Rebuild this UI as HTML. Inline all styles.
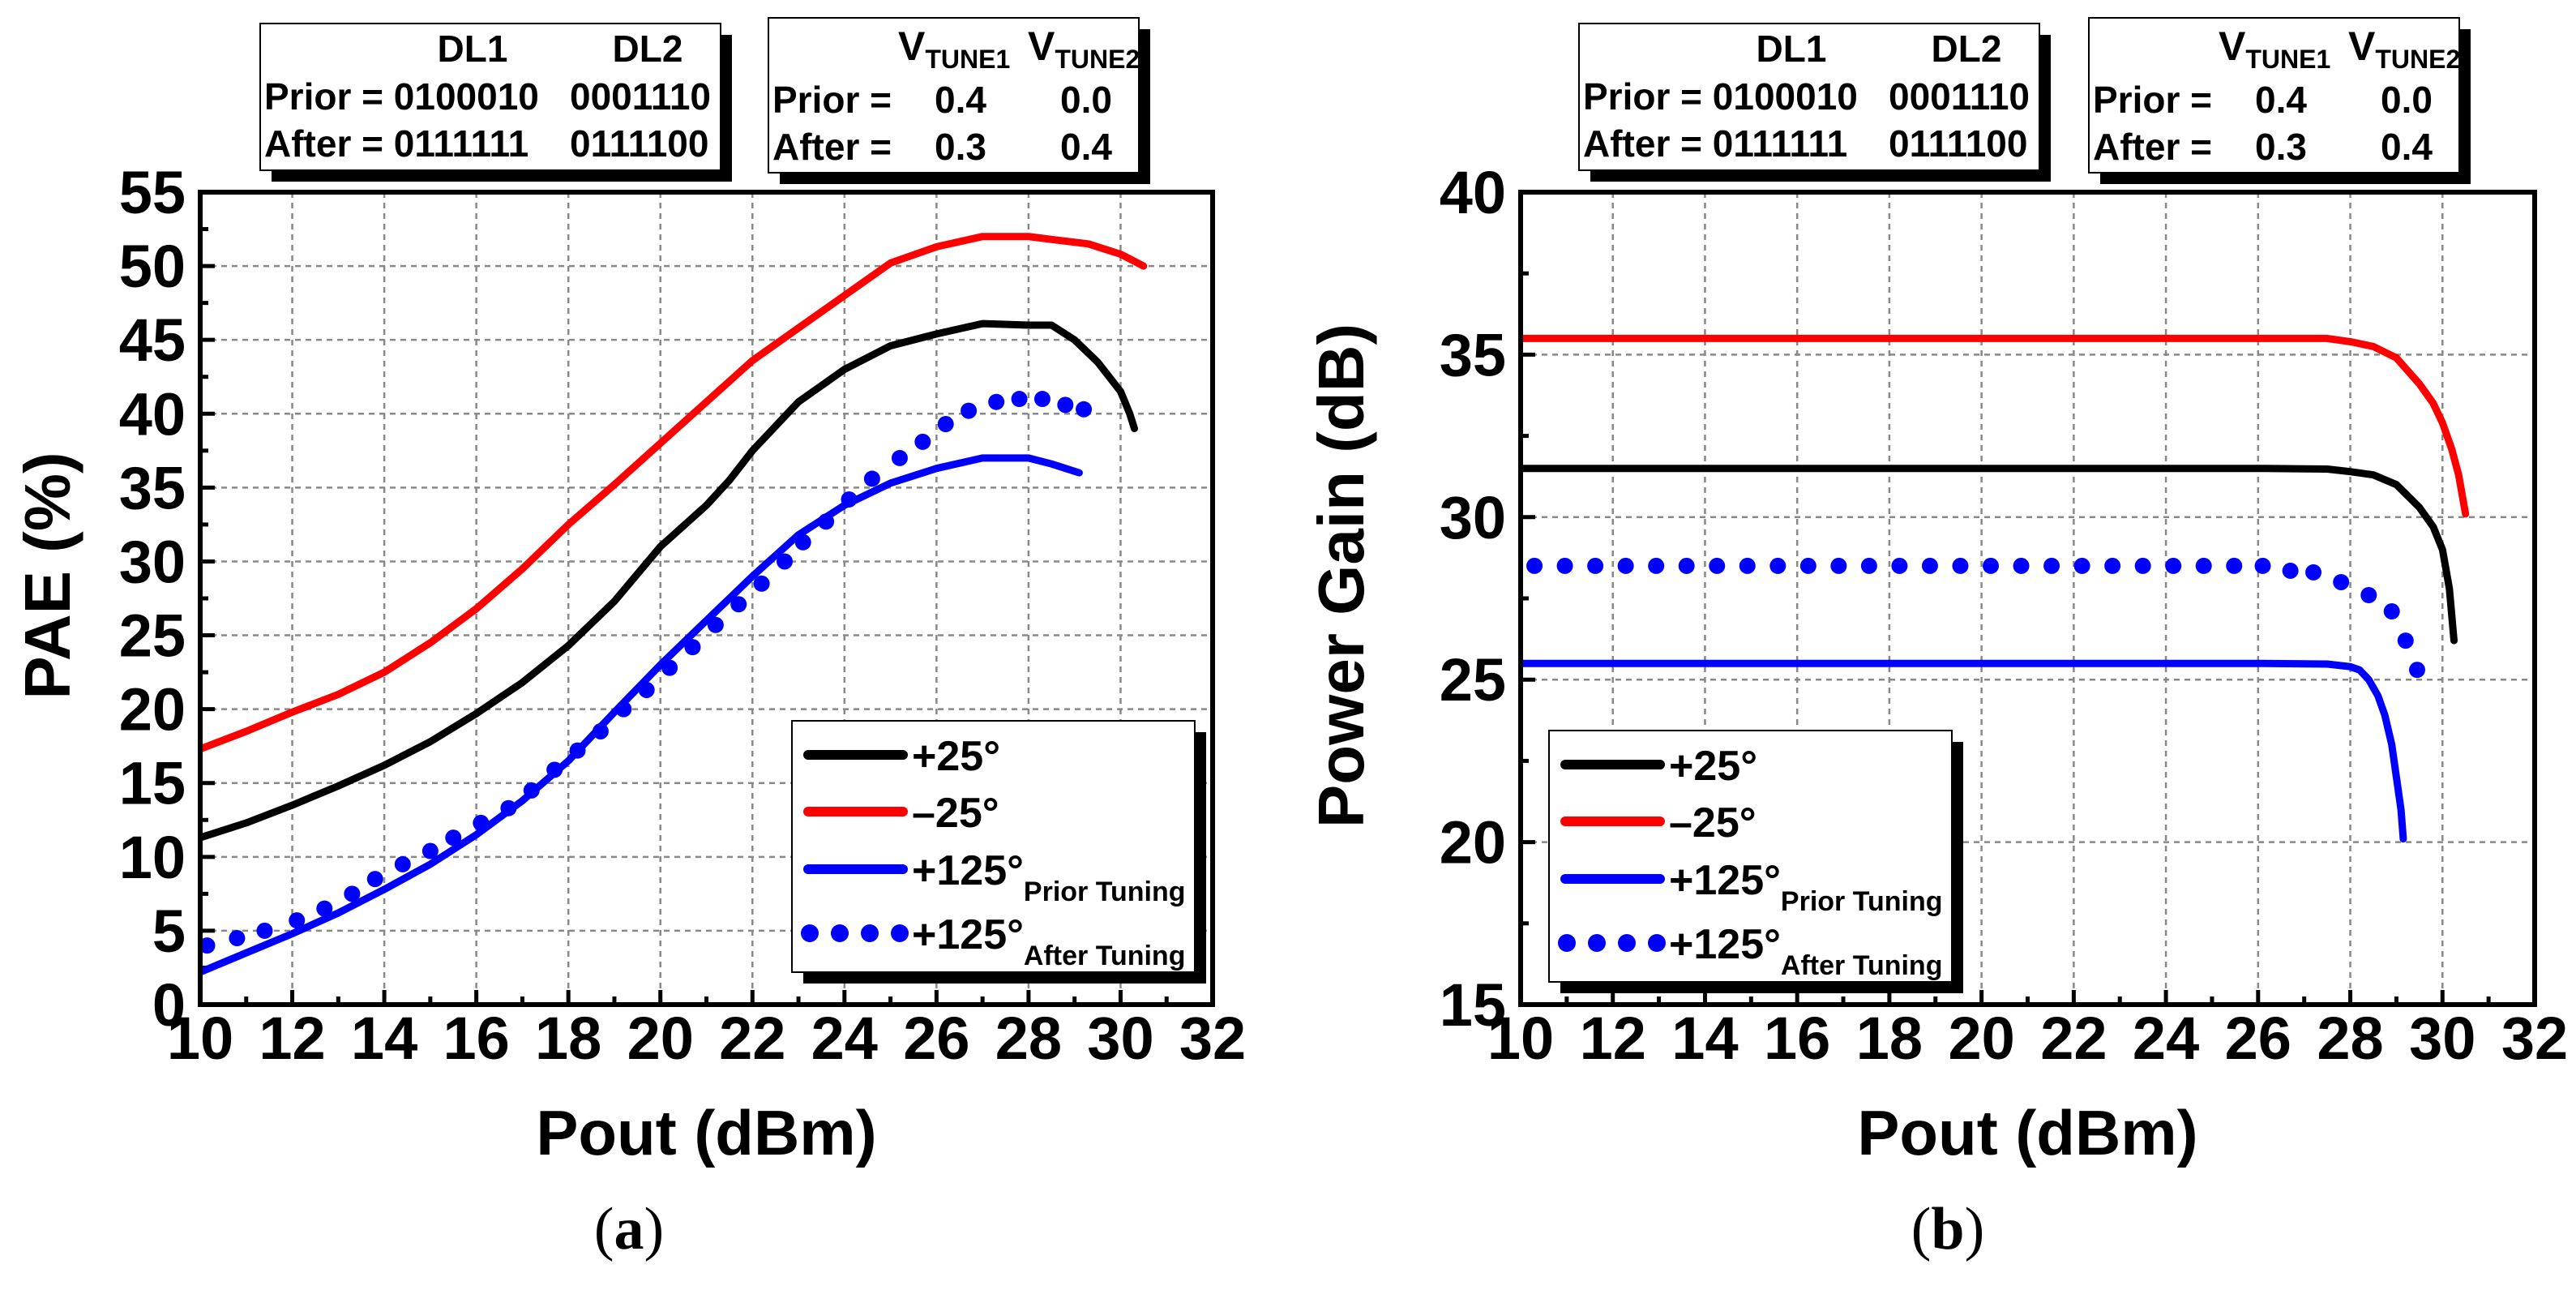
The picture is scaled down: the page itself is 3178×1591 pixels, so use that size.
<!DOCTYPE html>
<html><head><meta charset="utf-8"><style>
html,body{margin:0;padding:0;background:#fff;}
svg{display:block;font-family:"Liberation Sans",Arial,sans-serif;}
</style></head><body>
<svg id="fig" width="3178" height="1591" viewBox="0 0 3178 1591" xmlns="http://www.w3.org/2000/svg"></svg>
<script>
// ---- Panel (a) PAE data ----
const paeBlackX = [10,11,12,13,14,15,16,17,18,19,20,21,21.5,22,23,24,25,26,27,28,28.5,29,29.5,30,30.2,30.3];
const paeBlackY = [11.3,12.3,13.5,14.8,16.2,17.8,19.7,21.8,24.3,27.3,31,33.8,35.5,37.5,40.8,43,44.6,45.4,46.1,46,46,45,43.5,41.5,40,39];
const paeRedX = [10,11,12,13,14,15,16,17,18,19,20,21,22,23,24,25,26,27,28,28.5,29.3,30,30.5];
const paeRedY = [17.3,18.5,19.8,21,22.5,24.5,26.8,29.5,32.5,35.2,38,40.8,43.6,45.8,48,50.2,51.3,52,52,51.8,51.5,50.8,50];
const paeBlueX = [10,11,12,13,14,15,16,17,18,19,20,21,22,23,24,25,26,27,28,28.5,29.1];
const paeBlueY = [2.2,3.5,4.8,6.2,7.8,9.5,11.5,13.8,16.5,19.8,23,26,29,31.8,33.8,35.3,36.3,37,37,36.6,36];
const paeDotX = [10.15,10.8,11.4,12.1,12.7,13.3,13.8,14.4,15,15.5,16.1,16.7,17.2,17.7,18.2,18.7,19.2,19.7,20.2,20.7,21.2,21.7,22.2,22.7,23.1,23.6,24.1,24.6,25.2,25.7,26.2,26.7,27.3,27.8,28.3,28.8,29.2];
const paeDotY = [4,4.5,5,5.7,6.5,7.5,8.5,9.5,10.4,11.3,12.3,13.3,14.5,15.9,17.2,18.5,20,21.3,22.8,24.2,25.7,27.1,28.5,30,31.3,32.7,34.2,35.6,37,38.1,39.3,40.2,40.8,41,41,40.6,40.3];
const paeTicks = [0,5,10,15,20,25,30,35,40,45,50,55];
// ---- Panel (b) Gain data ----
const gBlackX = [10,14,18,22,26,27.5,28,28.5,29,29.5,29.8,30,30.15,30.25];
const gBlackY = [31.5,31.5,31.5,31.5,31.5,31.48,31.4,31.3,31,30.3,29.7,29,27.8,26.2];
const gRedX = [10,14,18,22,26,27.5,28,28.5,29,29.5,29.8,30,30.2,30.35,30.5];
const gRedY = [35.5,35.5,35.5,35.5,35.5,35.5,35.4,35.25,34.9,34.1,33.5,32.9,32.1,31.3,30.1];
const gBlueX = [10,14,18,22,26,27.5,28,28.2,28.4,28.6,28.75,28.9,29,29.1,29.15];
const gBlueY = [25.5,25.5,25.5,25.5,25.5,25.48,25.4,25.3,25,24.5,23.9,23,22,21,20.1];
const gDotX = [10.3,10.96,11.62,12.28,12.94,13.6,14.26,14.92,15.58,16.24,16.9,17.56,18.22,18.88,19.54,20.2,20.86,21.52,22.18,22.84,23.5,24.16,24.82,25.48,26.1,26.7,27.2,27.8,28.4,28.9,29.2,29.45];
const gDotY = [28.5,28.5,28.5,28.5,28.5,28.5,28.5,28.5,28.5,28.5,28.5,28.5,28.5,28.5,28.5,28.5,28.5,28.5,28.5,28.5,28.5,28.5,28.5,28.5,28.5,28.35,28.3,28,27.6,27.1,26.2,25.3];
const gainTicks = [15,20,25,30,35,40];
const xTicks = [10,12,14,16,18,20,22,24,26,28,30,32];

const NS = "http://www.w3.org/2000/svg";
const fig = document.getElementById('fig');
function mk(tag, attrs, parent, text){
  const e = document.createElementNS(NS, tag);
  for (const k in attrs) e.setAttribute(k, attrs[k]);
  if (text !== undefined) e.textContent = text;
  (parent || fig).appendChild(e);
  return e;
}

function panel(o){
  const g = mk('g', {});
  
  
  const L=o.L, R=o.R, T=237, B=1239;
  const sx = v => L + (v-10)/(32-10)*(R-L);
  const sy = v => B - (v-o.ymin)/(o.ymax-o.ymin)*(B-T);
  const grid = mk('g', {stroke:'#888','stroke-width':2.5,'stroke-dasharray':'7,6'}, g);
  
  
  xTicks.slice(1,-1).forEach(v=>mk('line',{x1:sx(v),x2:sx(v),y1:T,y2:B},grid));
  o.yTicks.slice(1,-1).forEach(v=>mk('line',{x1:L,x2:R,y1:sy(v),y2:sy(v)},grid));
  const tk = mk('g',{stroke:'#000','stroke-width':5},g);
  
  
  for(let v=10; v<=32; v+=1){ const len = (v%2===0)?18:10; mk('line',{x1:sx(v),x2:sx(v),y1:B,y2:B-len},tk); }
  for(let v=o.ymin; v<=o.ymax; v+=2.5){ const len = (v%5===0)?18:10; mk('line',{x1:L,x2:L+len,y1:sy(v),y2:sy(v)},tk); }
  xTicks.forEach(v=>{
    const t = mk('text',{x:sx(v),y:1306,'font-size':74,'font-weight':'bold','text-anchor':'middle'},g,String(v));
    
    
  });
  o.yTicks.forEach(v=>{
    const t = mk('text',{x:L-18,y:sy(v)+26,'font-size':74,'font-weight':'bold','text-anchor':'end'},g,String(v));
    
    
  });
  const clip = 'clip-'+o.name;
  const cp = mk('clipPath',{id:clip},g); mk('rect',{x:L,y:T-5,width:R-L+40,height:B-T+5},cp);
  function line(xs,ys,color,name){
    const p = mk('path',{d:xs.map((x,i)=>(i?'L':'M')+sx(x).toFixed(1)+' '+sy(ys[i]).toFixed(1)).join(' '),fill:'none',stroke:color,'stroke-width':9,'stroke-linejoin':'round','stroke-linecap':'round','clip-path':'url(#'+clip+')'},g);
    
    
  }
  line(o.blk[0],o.blk[1],'#000','series-plus25');
  line(o.red[0],o.red[1],'#ff0000','series-minus25');
  line(o.blu[0],o.blu[1],'#0000ff','series-plus125-prior');
  const dots = mk('g',{fill:'#0000ff'},g);
  
  
  o.dot[0].forEach((x,i)=>{
    const c = mk('circle',{cx:sx(x),cy:sy(o.dot[1][i]),r:10},dots);
    
    
  });
  const fr = mk('rect',{x:L,y:T,width:R-L,height:B-T,fill:'none',stroke:'#000','stroke-width':6},g);
  
  
  const xt = mk('text',{x:(L+R)/2,y:1424,'font-size':78,'font-weight':'bold','text-anchor':'middle'},g,'Pout (dBm)');
  
  
  const yt = mk('text',{x:0,y:0,'font-size':80,'font-weight':'bold','text-anchor':'middle',transform:'translate('+o.ytx+',710) rotate(-90)'},g,o.ytitle);
  
  
  const cap = mk('text',{x:o.capx,y:1540,'font-size':74,'font-family':'"Liberation Serif",serif','text-anchor':'middle'},g);
  
  
  mk('tspan',{},cap,'(');
  mk('tspan',{'font-weight':'bold'},cap,o.cap);
  mk('tspan',{},cap,')');
  // legend
  const lg = mk('g',{},g);
  
  
  const lx=o.lgx, ly=o.lgy, lw=497, lh=310;
  mk('rect',{x:lx+14,y:ly+14,width:lw,height:lh,fill:'#000'},lg);
  mk('rect',{x:lx,y:ly,width:lw,height:lh,fill:'#fff',stroke:'#000','stroke-width':2},lg);
  const rows=[['#000','+25°','',42],['#ff0000','\u201325°','',112],['#0000ff','+125°','Prior Tuning',183],['dot','+125°','After Tuning',262]];
  rows.forEach(r=>{
    const yy = ly+r[3];
    const ent = mk('g',{},lg);
    
    
    if(r[0]==='dot'){ [0,1,2,3].forEach(k=>mk('circle',{cx:lx+22+k*37,cy:yy,r:11,fill:'#0000ff'},ent)); }
    else mk('line',{x1:lx+20,x2:lx+137,y1:yy,y2:yy,stroke:r[0],'stroke-width':12,'stroke-linecap':'round'},ent);
    const t = mk('text',{x:lx+148,y:yy+19,'font-size':52,'font-weight':'bold'},ent,r[1]);
    if(r[2]) mk('tspan',{dy:20,'font-size':34},t,r[2]);
  });
  function table(x,y,w,h,rowsT,name){
    const tg = mk('g',{},g);
    
    
    mk('rect',{x:x+14,y:y+14,width:w,height:h,fill:'#000'},tg);
    mk('rect',{x:x,y:y,width:w,height:h,fill:'#fff',stroke:'#000','stroke-width':2},tg);
    rowsT.forEach(fn=>fn(tg,x,y));
  }
  const F=46;
  table(o.t1x,29,568,181,[
    (tg,x,y)=>{mk('text',{x:x+262,y:y+47,'font-size':F,'font-weight':'bold','text-anchor':'middle'},tg,'DL1');mk('text',{x:x+478,y:y+47,'font-size':F,'font-weight':'bold','text-anchor':'middle'},tg,'DL2');},
    (tg,x,y)=>{mk('text',{x:x+5,y:y+106,'font-size':F,'font-weight':'bold'},tg,'Prior = 0100010');mk('text',{x:x+382,y:y+106,'font-size':F,'font-weight':'bold'},tg,'0001110');},
    (tg,x,y)=>{mk('text',{x:x+5,y:y+164,'font-size':F,'font-weight':'bold'},tg,'After = 0111111');mk('text',{x:x+382,y:y+164,'font-size':F,'font-weight':'bold'},tg,'0111100');}
  ],'dl-table');
  table(o.t2x,22,457,191,[
    (tg,x,y)=>{const a=mk('text',{x:x+160,y:y+52,'font-size':50,'font-weight':'bold'},tg,'V');mk('tspan',{dy:10,'font-size':32},a,'TUNE1');
               const b=mk('text',{x:x+320,y:y+52,'font-size':50,'font-weight':'bold'},tg,'V');mk('tspan',{dy:10,'font-size':32},b,'TUNE2');},
    (tg,x,y)=>{mk('text',{x:x+5,y:y+117,'font-size':F,'font-weight':'bold'},tg,'Prior =');mk('text',{x:x+237,y:y+117,'font-size':F,'font-weight':'bold','text-anchor':'middle'},tg,'0.4');mk('text',{x:x+392,y:y+117,'font-size':F,'font-weight':'bold','text-anchor':'middle'},tg,'0.0');},
    (tg,x,y)=>{mk('text',{x:x+5,y:y+175,'font-size':F,'font-weight':'bold'},tg,'After =');mk('text',{x:x+237,y:y+175,'font-size':F,'font-weight':'bold','text-anchor':'middle'},tg,'0.3');mk('text',{x:x+392,y:y+175,'font-size':F,'font-weight':'bold','text-anchor':'middle'},tg,'0.4');}
  ],'vtune-table');
}

panel({name:'panel-a-pae',L:247,R:1496,ymin:0,ymax:55,yTicks:paeTicks,
  blk:[paeBlackX,paeBlackY],red:[paeRedX,paeRedY],blu:[paeBlueX,paeBlueY],dot:[paeDotX,paeDotY],
  ytitle:'PAE (%)',ytx:86,cap:'a',capx:776,lgx:977,lgy:889,t1x:321,t2x:948});
panel({name:'panel-b-gain',L:1876,R:3127,ymin:15,ymax:40,yTicks:gainTicks,
  blk:[gBlackX,gBlackY],red:[gRedX,gRedY],blu:[gBlueX,gBlueY],dot:[gDotX,gDotY],
  ytitle:'Power Gain (dB)',ytx:1682,cap:'b',capx:2403,lgx:1911,lgy:901,t1x:1948,t2x:2577});
</script>
</body></html>
